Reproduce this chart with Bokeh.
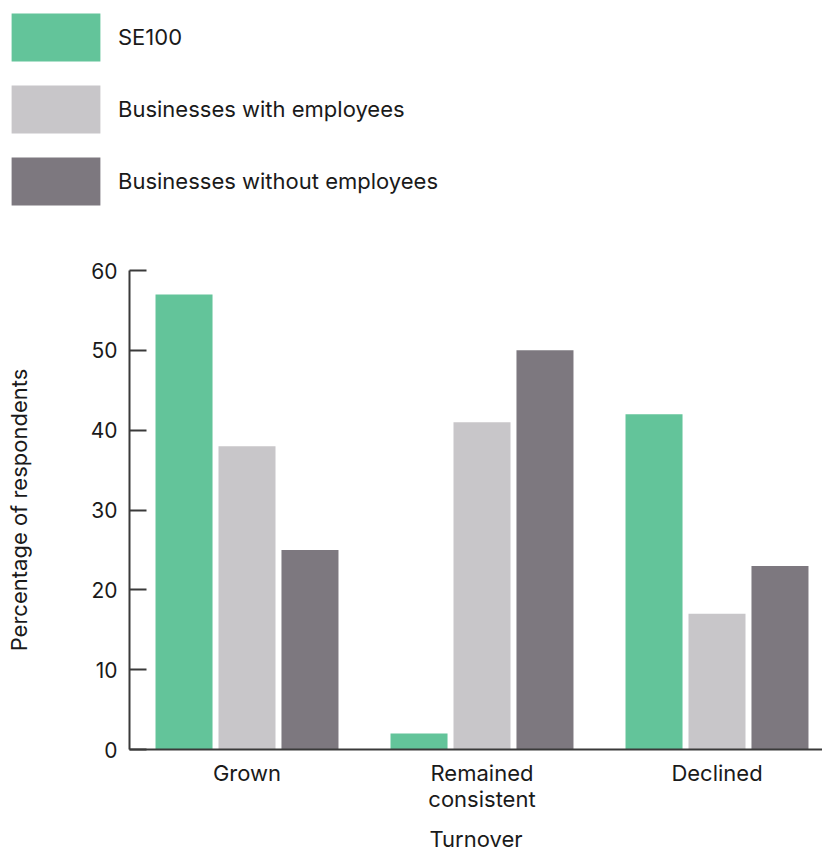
from bokeh.plotting import figure
from bokeh.layouts import column, row
from bokeh.models import Range1d, FixedTicker, Legend, LegendItem, ColumnDataSource
from bokeh.transform import dodge
from bokeh.embed import file_html
from bokeh.resources import INLINE

categories = ["Grown", "Remained\nconsistent", "Declined"]
series_names = ["SE100", "Businesses with employees", "Businesses without employees"]
se100 = [57, 2, 42]
with_emp = [38, 41, 17]
without_emp = [25, 50, 23]
colors = ["#63c49a", "#c8c6c9", "#7d787f"]
y_ticks = [0, 10, 20, 30, 40, 50, 60]

FONT = "Inter"
TXT = "#1a1a1a"
AX = "#3a3a3a"

LEG_H = 240
CH_H = 855 - LEG_H

pos = [i + 0.5 for i in range(len(categories))]
source = ColumnDataSource(dict(x=pos, se100=se100, with_emp=with_emp, without_emp=without_emp))

# ---- chart ----
p = figure(width=822, height=CH_H, x_range=Range1d(0, 693 / 235), y_range=Range1d(0, 60),
           output_backend="svg", toolbar_location=None,
           min_border_left=129, min_border_right=0, min_border_top=30, min_border_bottom=106)
p.outline_line_color = None
p.grid.visible = False

fields = ["se100", "with_emp", "without_emp"]
offsets = [-0.268, 0.0, 0.268]
for f, off, c in zip(fields, offsets, colors):
    p.vbar(x=dodge("x", off, range=p.x_range), top=f, width=0.2426, bottom=0,
           source=source, fill_color=c, line_color=None)

xa = p.xaxis[0]
xa.ticker = FixedTicker(ticks=pos)
xa.major_label_overrides = {x: c for x, c in zip(pos, categories)}
xa.major_tick_in = 0
xa.major_tick_out = 0
xa.minor_tick_line_color = None
xa.axis_line_color = AX
xa.axis_line_width = 2
xa.major_label_standoff = 10
xa.major_label_text_font = FONT
xa.major_label_text_font_size = "22px"
xa.major_label_text_line_height = 1.0
xa.major_label_text_color = TXT
xa.axis_label = "Turnover"
xa.axis_label_text_font = FONT
xa.axis_label_text_font_size = "22px"
xa.axis_label_text_line_height = 1.0
xa.axis_label_text_font_style = "normal"
xa.axis_label_text_color = TXT
xa.axis_label_standoff = 11

ya = p.yaxis[0]
ya.ticker = FixedTicker(ticks=y_ticks)
ya.major_tick_in = 17
ya.major_tick_out = 0
ya.major_tick_line_color = AX
ya.major_tick_line_width = 2
ya.minor_tick_line_color = None
ya.axis_line_color = AX
ya.axis_line_width = 2
ya.major_label_standoff = 12
ya.major_label_text_font = FONT
ya.major_label_text_font_size = "21px"
ya.major_label_text_color = TXT
ya.axis_label = "Percentage of respondents"
ya.axis_label_text_font = FONT
ya.axis_label_text_font_size = "22px"
ya.axis_label_text_font_style = "normal"
ya.axis_label_text_color = TXT
ya.axis_label_standoff = 56

# ---- legend panel ----
lg = figure(width=822, height=LEG_H, x_range=Range1d(0, 822), y_range=Range1d(0, LEG_H),
            output_backend="svg", toolbar_location=None,
            x_axis_location=None, y_axis_location=None,
            min_border=0, min_border_left=0, min_border_right=0, min_border_top=0, min_border_bottom=0)
lg.outline_line_color = None
lg.grid.visible = False
items = []
for n, c in zip(series_names, colors):
    r = lg.vbar(x=[-100], top=[0], bottom=[0], width=1, fill_color=c, line_color=None)
    items.append(LegendItem(label=n, renderers=[r]))

legend = Legend(items=items, location=(0, LEG_H - 7 - 204), orientation="vertical",
                glyph_width=111, glyph_height=60, spacing=12, padding=0, margin=0,
                label_standoff=7, label_text_font=FONT, label_text_font_size="22px",
                label_text_color=TXT, border_line_alpha=0, background_fill_alpha=0)
lg.add_layout(legend)

layout = column(row(lg, spacing=0), p, spacing=0)
open("out.html", "w").write(file_html(layout, INLINE))
